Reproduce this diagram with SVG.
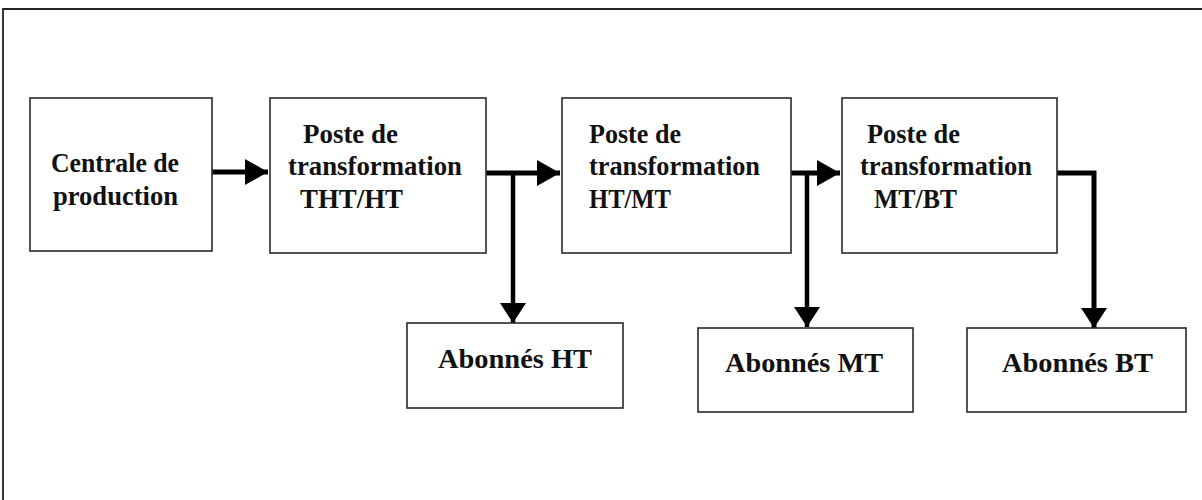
<svg xmlns="http://www.w3.org/2000/svg" width="1202" height="500" viewBox="0 0 1202 500">
<style>
.box{fill:#fff;stroke:#2a2a2a;stroke-width:1.6}
.t{font-family:"Liberation Serif","Times New Roman",serif;font-weight:bold;font-size:27px;fill:#111}
.c{fill:none;stroke:#000;stroke-width:5}
.v{fill:none;stroke:#000;stroke-width:4.5}
.frame{fill:none;stroke:#222;stroke-width:1.8}
</style>
<defs>
<marker id="ah" viewBox="0 0 23 26" refX="23" refY="13" markerWidth="23" markerHeight="26" markerUnits="userSpaceOnUse" orient="auto">
<path d="M0,0 L23,13 L0,26 Z" fill="#000"/>
</marker>
<marker id="ahd" viewBox="0 0 20 26" refX="20" refY="13" markerWidth="20" markerHeight="26" markerUnits="userSpaceOnUse" orient="auto">
<path d="M0,0 L20,13 L0,26 Z" fill="#000"/>
</marker>
</defs>
<rect width="1202" height="500" fill="#fff"/>
<path class="frame" d="M3,500 L3,9 L1202,9"/>
<g id="connectors">
<path class="c" d="M212,172 L268,172" marker-end="url(#ah)"/>
<path class="c" d="M486,173 L560,173" marker-end="url(#ah)"/>
<path class="v" d="M513,173 L513,323" marker-end="url(#ahd)"/>
<path class="c" d="M791,173 L840,173" marker-end="url(#ah)"/>
<path class="v" d="M807,173 L807,327" marker-end="url(#ahd)"/>
<path class="c" d="M1057,173 L1094,173 L1094,328" stroke-linejoin="miter" marker-end="url(#ahd)"/>
</g>
<g id="centrale">
<rect class="box" x="30" y="98" width="182" height="153"/>
<text class="t" x="51" y="172" textLength="128" lengthAdjust="spacingAndGlyphs">Centrale de</text>
<text class="t" x="53" y="205" textLength="125" lengthAdjust="spacingAndGlyphs">production</text>
</g>
<g id="poste-tht-ht">
<rect class="box" x="270" y="98" width="216" height="155"/>
<text class="t" x="303" y="143" textLength="95" lengthAdjust="spacingAndGlyphs">Poste de</text>
<text class="t" x="288" y="175" textLength="174" lengthAdjust="spacingAndGlyphs">transformation</text>
<text class="t" x="300" y="208" textLength="103" lengthAdjust="spacingAndGlyphs">THT/HT</text>
</g>
<g id="poste-ht-mt">
<rect class="box" x="562" y="98" width="229" height="155"/>
<text class="t" x="589" y="143" textLength="92" lengthAdjust="spacingAndGlyphs">Poste de</text>
<text class="t" x="589" y="175" textLength="171" lengthAdjust="spacingAndGlyphs">transformation</text>
<text class="t" x="589" y="208" textLength="82" lengthAdjust="spacingAndGlyphs">HT/MT</text>
</g>
<g id="poste-mt-bt">
<rect class="box" x="842" y="98" width="215" height="155"/>
<text class="t" x="867" y="143" textLength="93" lengthAdjust="spacingAndGlyphs">Poste de</text>
<text class="t" x="860" y="175" textLength="172" lengthAdjust="spacingAndGlyphs">transformation</text>
<text class="t" x="874" y="208" textLength="83" lengthAdjust="spacingAndGlyphs">MT/BT</text>
</g>
<g id="abonnes-ht">
<rect class="box" x="407" y="323" width="216" height="85"/>
<text class="t" x="438" y="368" textLength="154" lengthAdjust="spacingAndGlyphs">Abonnés HT</text>
</g>
<g id="abonnes-mt">
<rect class="box" x="698" y="328" width="215" height="84"/>
<text class="t" x="725" y="372" textLength="158" lengthAdjust="spacingAndGlyphs">Abonnés MT</text>
</g>
<g id="abonnes-bt">
<rect class="box" x="967" y="328" width="219" height="84"/>
<text class="t" x="1002" y="372" textLength="151" lengthAdjust="spacingAndGlyphs">Abonnés BT</text>
</g>
</svg>
